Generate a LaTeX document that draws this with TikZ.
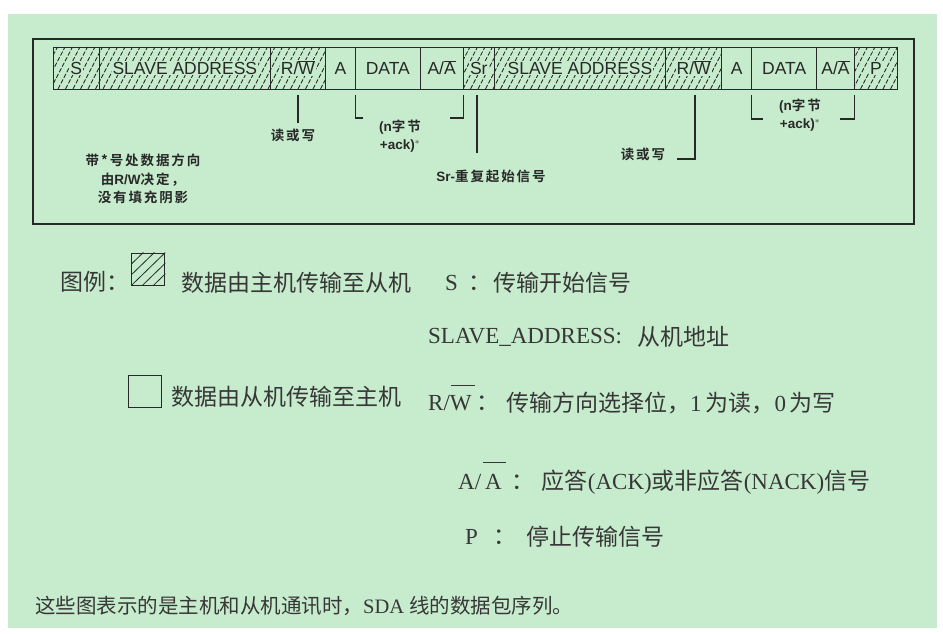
\documentclass[tikz,border=0pt]{standalone}
\usepackage{fontspec}
\setmainfont{Liberation Serif}
\newfontfamily\sans{Liberation Sans}
\newfontfamily\cjk{Noto Sans CJK SC}
\newfontfamily\cjkb{Noto Sans CJK SC Bold}[LetterSpace=14]
\usetikzlibrary{calc}
\definecolor{bg}{RGB}{199,236,205}
\definecolor{ink}{RGB}{40,40,40}
\definecolor{txt}{RGB}{55,55,55}
\newcommand{\zh}[1]{{\cjk #1}}
\begin{document}
\begin{tikzpicture}[x=1pt,y=-1pt,
  frame/.style={draw=ink,line width=1.8pt},
  cell/.style={draw=ink,line width=0.8pt,minimum height=42pt,inner sep=0pt,outer sep=0pt},
  hatch/.style={draw=ink,line width=0.85pt,dash pattern=on 4.5pt off 1.8pt},
  lbl/.style={fill=bg,inner sep=1pt,text=ink,font=\sans\fontsize{17.5}{20}\selectfont},
  note/.style={text=ink,align=center,font=\cjkb\fontsize{13.5}{18.5}\selectfont},
  noteline/.style={draw=ink,line width=1.1pt},
  legend/.style={anchor=west,inner sep=0pt,text=txt,font=\fontsize{23}{27}\selectfont},
  box/.style={draw=ink,line width=1pt,minimum width=33pt,minimum height=32pt,inner sep=0pt}]
\useasboundingbox (0,0) rectangle (943,634);
\fill[bg] (8,14) rectangle (937,628);
\draw[frame] (33,39) rectangle (914,224);

% shading of the master-driven fields
\begin{scope}
  \clip (53.3,47) rectangle (325.3,89) (463.3,47) rectangle (721.7,89) (854.3,47) rectangle (897.7,89);
  \foreach \x in {28,35.5,...,900} \draw[hatch] (\x,89) -- ++(22,-42);
\end{scope}

% packet fields
\foreach \n/\c/\w in {s1/76.15/45.7, sa1/184.85/171.7, rw1/298/54.6, a1/340.5/30.4,
    d1/387.85/64.3, aa1/441.65/43.3, sr/478.8/31, sa2/580/171.4, rw2/693.7/56,
    a2/736.7/30, d2/784.2/65, aa2/835.5/37.6, p/876/43.4}
  \node[cell,minimum width=\w pt] (\n) at (\c,68) {};
\node[lbl] (ls1) at (s1) {S};
\node[lbl] (lsa1) at (sa1) {SLAVE ADDRESS};
\node[lbl] (lrw1) at (rw1) {R/$\overline{\mbox{W}}$};
\node[lbl] (la1) at (a1) {A};
\node[lbl] (ld1) at (d1) {DATA};
\node[lbl] (laa1) at (aa1) {A/$\overline{\mbox{A}}$};
\node[lbl] (lsr) at (sr) {Sr};
\node[lbl] (lsa2) at (sa2) {SLAVE ADDRESS};
\node[lbl] (lrw2) at (rw2) {R/$\overline{\mbox{W}}$};
\node[lbl] (la2) at (a2) {A};
\node[lbl] (ld2) at (d2) {DATA};
\node[lbl] (laa2) at (aa2) {A/$\overline{\mbox{A}}$};
\node[lbl] (lp) at (p) {P};

% annotations under the packet
\node[note] (n1) at (293,135) {读或写};
\draw[noteline] ([yshift=-6pt]rw1.south) -- (rw1.south |- 0,123);
\node[note] (n2) at (400,136) {{\sans\bfseries (n}字节\\{\sans\bfseries +ack)$^*$}};
\draw[noteline] ([yshift=-6pt]d1.south west) -- (d1.south west |- 0,118) -- ++(7,0);
\draw[noteline] ([yshift=-6pt]aa1.south east) -- (aa1.south east |- 0,118) -- ++(-13,0);
\node[note] (n3) at (491,176) {{\sans\bfseries Sr-}重复起始信号};
\draw[draw=ink,line width=2pt] ([xshift=-2pt,yshift=-6pt]sr.south) -- ([xshift=-2pt]sr.south |- 0,153);
\node[note] (n4) at (143,179) {带*号处数据方向\\由{\sans\bfseries R/W}决定，\\没有填充阴影};
\node[note] (n5) at (643,154) {读或写};
\draw[noteline] ([xshift=1.3pt,yshift=-6pt]rw2.south) -- ([xshift=1.3pt]rw2.south |- 0,159) -- ++(-18,0);
\node[note] (n6) at (800,115) {{\sans\bfseries (n}字节\\{\sans\bfseries +ack)$^*$}};
\draw[noteline] ([yshift=-6pt]d2.south west) -- (d2.south west |- 0,119) -- ++(11,0);
\draw[noteline] ([yshift=-6pt]aa2.south east) -- (aa2.south east |- 0,119) -- ++(-14,0);

% legend
\node[legend] (lg) at (60,282) {\zh{图例：}};
\node[box] (hb) at (148.3,269) {};
\begin{scope}
  \clip (hb.south west) rectangle (hb.north east);
  \foreach \o in {-22,-11,0,11,22}
    \draw[ink,line width=0.8pt] ([xshift=\o pt]hb.south west) -- ([xshift=\o pt]hb.north east);
\end{scope}
\node[legend] (t1) at (181.7,283) {\zh{数据由主机传输至从机}};
\node[box] (eb) at (145.4,391) {};
\node[legend] (t2) at (171.7,397) {\zh{数据由从机传输至主机}};

\node[legend] (k1) at (445,283) {S};
\node[legend] (c1) at (468,283) {\zh{：}};
\node[legend] (v1) at (493,283) {\zh{传输开始信号}};

\node[legend] (k2) at (428,337) {SLAVE\_ADDRESS:};
\node[legend] (v2) at (637,337) {\zh{从机地址}};

\node[legend] (k3) at (428,403) {R/W};
\draw[txt,line width=1pt] (451,385) -- (475,385);
\node[legend] (c3) at (476,403) {\zh{：}};
\node[legend] (v3) at (506,403) {\zh{传输方向选择位，}1\,\zh{为读，}0\,\zh{为写}};

\node[legend] (k4) at (458,482) {A/\,A};
\draw[txt,line width=1pt] (483,462) -- (506,462);
\node[legend] (c4) at (511,482) {\zh{：}};
\node[legend] (v4) at (541.7,482) {\zh{应答}(ACK)\zh{或非应答}(NACK)\zh{信号}};

\node[legend] (k5) at (465,537) {P};
\node[legend] (c5) at (493,537) {\zh{：}};
\node[legend] (v5) at (526,537) {\zh{停止传输信号}};

\node[legend,font=\fontsize{20.5}{24}\selectfont] (foot) at (35,606)
  {\zh{这些图表示的是主机和从机通讯时，}SDA \zh{线的数据包序列。}};
\end{tikzpicture}
\end{document}
